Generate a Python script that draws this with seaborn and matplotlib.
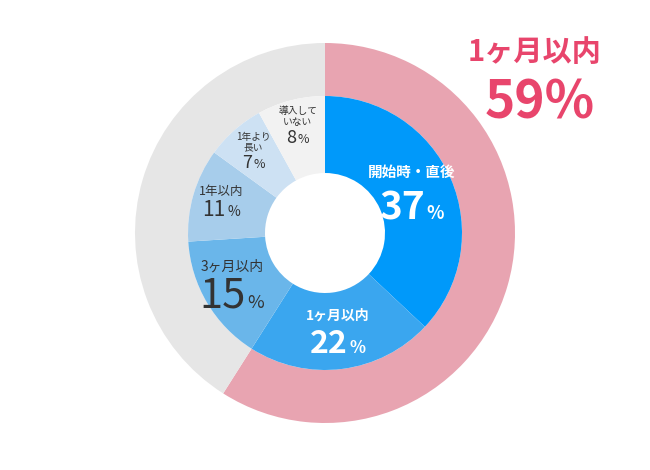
import numpy as np
import matplotlib.pyplot as plt
import seaborn as sns
from matplotlib.offsetbox import TextArea, HPacker, VPacker, AnnotationBbox

# data
categories = ["開始時・直後", "1ヶ月以内", "3ヶ月以内", "1年以内", "1年より\n長い", "導入して\nいない"]
shares = [37, 22, 15, 11, 7, 8]
ring_labels = ["1ヶ月以内", "それ以降"]
ring_shares = [shares[0] + shares[1], 100 - shares[0] - shares[1]]

sns.set_theme(style="white")
plt.rcParams['font.family'] = ['Noto Sans CJK JP', 'DejaVu Sans']

inner_colors = ["#0099fa", "#3aa6ef", "#6ab6ea", "#a7cdeb", "#cde1f3", "#f2f2f2"]
ring_colors = ["#e8a4b1", "#e6e6e6"]
accent = "#e8456c"

# label styling per slice: (label size, number size, percent size, colour, weight, radius, gap)
styles = [
    (10.5, 28, 13, "white", "bold", 94, 6),
    (10, 23, 12, "white", "bold", 102, 4),
    (10, 30, 13, "#333333", "normal", 108, 2),
    (9, 15, 10, "#333333", "normal", 108, 1),
    (7, 13, 9, "#333333", "normal", 108, 1),
    (7, 13, 9, "#333333", "normal", 110, 1),
]

fig = plt.figure(figsize=(6.5, 4.7), dpi=100)
ax = fig.add_axes([0, 0, 1, 1])
cx, cy = 325, 237

ax.pie(ring_shares, colors=ring_colors, startangle=90, counterclock=False,
       radius=190, center=(cx, cy), wedgeprops=dict(width=53, linewidth=0))
ax.pie(shares, colors=inner_colors, startangle=90, counterclock=False,
       radius=137, center=(cx, cy), wedgeprops=dict(width=77, linewidth=0))

ax.set_xlim(0, 650)
ax.set_ylim(0, 470)
ax.set_aspect("equal")
ax.axis("off")

start = 90
for cat, val, st in zip(categories, shares, styles):
    lsize, nsize, psize, col, wt, r, gap = st
    mid = np.deg2rad(start - val * 3.6 / 2)
    start -= val * 3.6
    x = cx + r * np.cos(mid)
    y = cy + r * np.sin(mid)
    lab = TextArea(cat, textprops=dict(fontsize=lsize, color=col, fontweight=wt,
                                       ha="center", multialignment="center",
                                       linespacing=1.1))
    num = TextArea(str(val), textprops=dict(fontsize=nsize, color=col, fontweight=wt))
    pct = TextArea("%", textprops=dict(fontsize=psize, color=col, fontweight=wt))
    row = HPacker(children=[num, pct], align="baseline", pad=0, sep=1)
    box = VPacker(children=[lab, row], align="center", pad=0, sep=gap)
    ax.add_artist(AnnotationBbox(box, (x, y), frameon=False, box_alignment=(0.5, 0.5)))

ax.text(535, 418, ring_labels[0], fontsize=21, fontweight="bold", color=accent,
        ha="center", va="center")
ax.text(540, 367, f"{ring_shares[0]}%", fontsize=37, fontweight="bold", color=accent,
        ha="center", va="center")

fig.savefig("out.png", dpi=100)
